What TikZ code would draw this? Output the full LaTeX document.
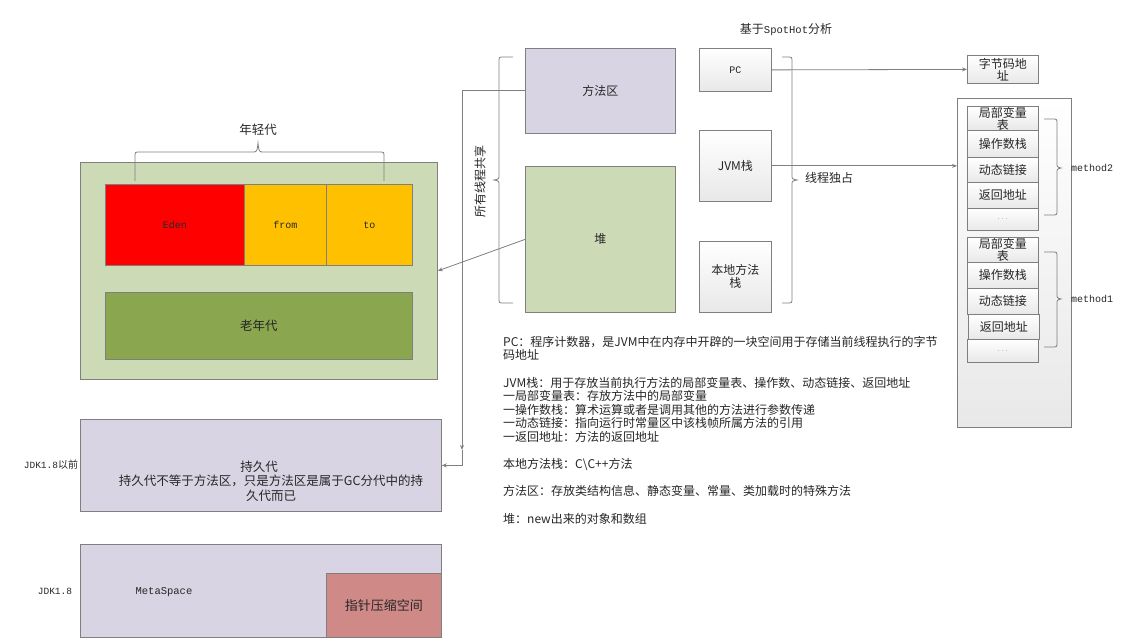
\documentclass[tikz,border=0pt]{standalone}
\usepackage{fontspec}
\setmainfont{Noto Sans CJK SC}
\newfontfamily\monof{Liberation Mono}
\usetikzlibrary{arrows.meta}
\definecolor{bgray}{HTML}{7F7F7F}
\definecolor{lav}{HTML}{D8D4E3}
\definecolor{lgreen}{HTML}{CDDAB6}
\definecolor{olive}{HTML}{8AA64E}
\definecolor{orng}{HTML}{FFC000}
\definecolor{pinkr}{HTML}{CF8A88}
\definecolor{txt}{HTML}{262626}
\newcommand{\fsz}[1]{\fontsize{#1}{#1}\selectfont}
\tikzset{
  box/.style={draw=bgray, line width=0.8pt, inner sep=0pt, align=center, anchor=north west, text=txt},
  grbox/.style={box, top color=white, bottom color=black!9},
  conn/.style={draw=bgray, line width=0.8pt, -{Stealth[length=5pt,width=4pt]}},
  br/.style={draw=bgray, line width=0.8pt},
  lbl/.style={text=txt, inner sep=0pt},
  dots/.style={text=bgray, font=\fsz{7}}
}
\begin{document}
\begin{tikzpicture}[x=1pt,y=-1pt]
\useasboundingbox (0,0) rectangle (1124,639);
% generational heap
\node[box, fill=lgreen, minimum width=357, minimum height=217] (gen) at (80,162) {};
\node[box, fill=red, minimum width=139, minimum height=81, font=\monof\fsz{10}] (eden) at (105,184) {Eden};
\node[box, fill=orng, minimum width=82, minimum height=81, font=\monof\fsz{10}] (from) at (244,184) {from};
\node[box, fill=orng, minimum width=86, minimum height=81, font=\monof\fsz{10}] (to) at (326,184) {to};
\node[box, fill=olive, minimum width=307, minimum height=67, font=\fsz{12.5}] (old) at (105,292) {老年代};
\draw[br] (135,181) -- (135,157) .. controls (135,152) .. (140,152) -- (252,152) .. controls (257,152) .. (258,143) .. controls (259,152) .. (264,152) -- (379,152) .. controls (384,152) .. (384,157) -- (384,181);
\node[lbl, font=\fsz{12.5}] (young) at (258,130) {年轻代};
% perm gen
\node[box, fill=lav, minimum width=361, minimum height=92] (perm) at (80,419) {};
\node[lbl, align=center, font=\fontsize{12.5}{14.5}\selectfont] (permtxt) at (271,481) {\hspace*{-24pt}持久代\\持久代不等于方法区，只是方法区是属于GC分代中的持\\久代而已};
\node[lbl, font=\monof\fsz{9.5}] (jdk7) at (51,465) {JDK1.8{\normalfont\fsz{10}以前}};
% metaspace
\node[box, fill=lav, minimum width=361, minimum height=93] (meta) at (80,544) {};
\node[box, fill=pinkr, minimum width=115, minimum height=64, font=\fsz{13}] (ptr) at (326,573) {指针压缩空间};
\node[lbl, font=\monof\fsz{10.5}] (metatxt) at (164,592) {MetaSpace};
\node[lbl, font=\monof\fsz{9.5}] (jdk8) at (55,591) {JDK1.8};
% shared
\node[box, fill=lav, minimum width=150, minimum height=85, font=\fsz{12}] (fq) at (525,48) {方法区};
\node[box, fill=lgreen, minimum width=150, minimum height=146, font=\fsz{12}] (heap) at (525,166) {堆};
\draw[br] (513,57) -- (504,57) .. controls (499,57) .. (499,62) -- (499,175) .. controls (499,179) .. (494,180) .. controls (499,181) .. (499,185) -- (499,298) .. controls (499,303) .. (504,303) -- (513,303);
\node[lbl, rotate=90, font=\fsz{12}] (share) at (480,182) {所有线程共享};
% thread-private
\node[grbox, minimum width=72, minimum height=43, font=\monof\fsz{10}] (pc) at (699,48) {PC};
\node[grbox, minimum width=72, minimum height=71, font=\fsz{12}] (jvm) at (699,130) {JVM栈};
\node[grbox, minimum width=72, minimum height=71, font=\fontsize{12}{13}\selectfont] (native) at (699,241) {本地方法\\栈};
\draw[br] (782,57) -- (787,57) .. controls (792,57) .. (792,62) -- (792,175) .. controls (792,179) .. (797,180) .. controls (792,181) .. (792,185) -- (792,298) .. controls (792,303) .. (787,303) -- (782,303);
\node[lbl, font=\fsz{12}] (own) at (829,178) {线程独占};
\node[lbl, font=\fsz{12}] (spot) at (786,30) {基于{\monof\fsz{10.5}SpotHot}分析};
% bytecode address
\node[grbox, minimum width=71, minimum height=28, font=\fontsize{12}{12}\selectfont] (bc) at (967,55) {字节码地\\址};
% stack
\node[grbox, minimum width=114, minimum height=329] (stack) at (957,98) {};
\node[grbox, minimum width=71, minimum height=24, font=\fontsize{12}{12}\selectfont] (m2a) at (967,106) {局部变量\\表};
\node[grbox, minimum width=71, minimum height=27, font=\fsz{12}] (m2b) at (967,130) {操作数栈};
\node[grbox, minimum width=71, minimum height=25, font=\fsz{12}] (m2c) at (967,157) {动态链接};
\node[grbox, minimum width=71, minimum height=26, font=\fsz{12}] (m2d) at (967,182) {返回地址};
\node[grbox, minimum width=71, minimum height=22, dots] (m2e) at (967,208) {. . .};
\node[grbox, minimum width=71, minimum height=25, font=\fontsize{12}{12}\selectfont] (m1a) at (967,237) {局部变量\\表};
\node[grbox, minimum width=71, minimum height=26, font=\fsz{12}] (m1b) at (967,262) {操作数栈};
\node[grbox, minimum width=71, minimum height=26, font=\fsz{12}] (m1c) at (967,288) {动态链接};
\node[grbox, minimum width=71, minimum height=25, font=\fsz{12}] (m1d) at (968,314) {返回地址};
\node[grbox, minimum width=71, minimum height=23, dots] (m1e) at (967,339) {. . .};
\draw[br] (1044,119) -- (1052,119) .. controls (1057,119) .. (1057,124) -- (1057,163) .. controls (1057,167) .. (1061,168) .. controls (1057,169) .. (1057,173) -- (1057,210) .. controls (1057,215) .. (1052,215) -- (1044,215);
\draw[br] (1044,252) -- (1052,252) .. controls (1057,252) .. (1057,257) -- (1057,294) .. controls (1057,298) .. (1061,299) .. controls (1057,300) .. (1057,304) -- (1057,342) .. controls (1057,347) .. (1052,347) -- (1044,347);
\node[lbl, anchor=west, font=\monof\fsz{10}] (meth2) at (1071,168) {method2};
\node[lbl, anchor=west, font=\monof\fsz{10}] (meth1) at (1071,299) {method1};
% description
\node[lbl, anchor=north west, align=left, font=\fontsize{12}{13.6}\selectfont] (desc) at (503,336) {PC：程序计数器，是JVM中在内存中开辟的一块空间用于存储当前线程执行的字节\\
码地址\\
\mbox{}\\
JVM栈：用于存放当前执行方法的局部变量表、操作数、动态链接、返回地址\\
一局部变量表：存放方法中的局部变量\\
一操作数栈：算术运算或者是调用其他的方法进行参数传递\\
一动态链接：指向运行时常量区中该栈帧所属方法的引用\\
一返回地址：方法的返回地址\\
\mbox{}\\
本地方法栈：C\textbackslash C++方法\\
\mbox{}\\
方法区：存放类结构信息、静态变量、常量、类加载时的特殊方法\\
\mbox{}\\
堆：new出来的对象和数组};
% connectors
\coordinate (midp) at (462,450);
\draw[conn] (fq.west) -| (midp);
\draw[conn] (midp) |- (perm.east);
\draw[conn] (heap.west) -- (gen.east);
\draw[conn] (pc.east) -- (bc.west);
\draw[conn] (jvm.east) -- (jvm.east -| stack.west);
\end{tikzpicture}
\end{document}
